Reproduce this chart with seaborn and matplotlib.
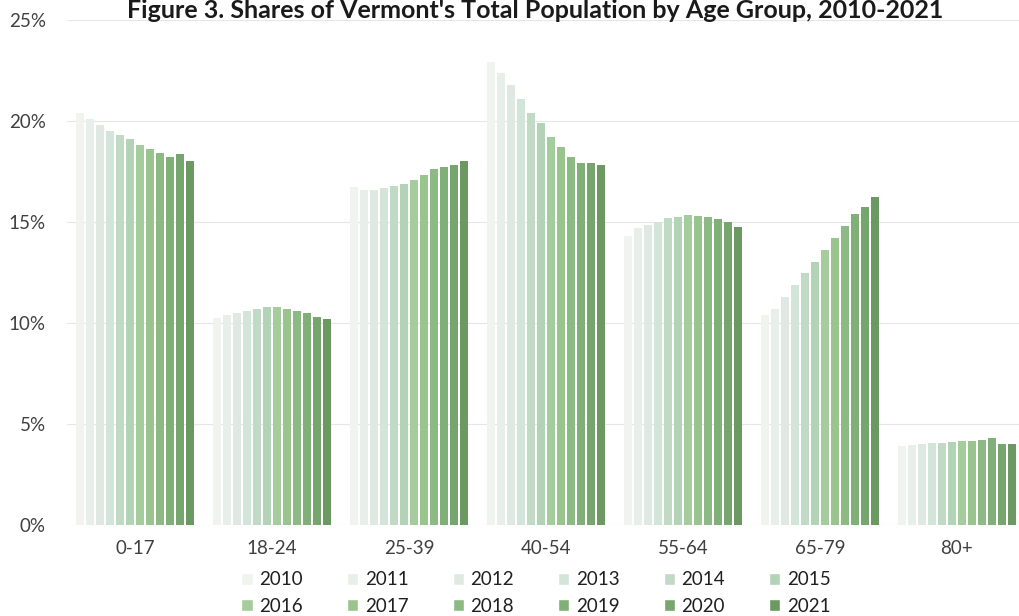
import matplotlib
matplotlib.use("Agg")
import matplotlib.pyplot as plt
import seaborn as sns
import pandas as pd

# Age groups and census years
age_groups = ["0-17", "18-24", "25-39", "40-54", "55-64", "65-79", "80+"]
years = [str(y) for y in range(2010, 2022)]

# Share of total population (%) for each age group, one list per group, 2010..2021
share_0_17 = [20.4, 20.1, 19.8, 19.5, 19.3, 19.1, 18.8, 18.6, 18.4, 18.2, 18.35, 18.0]
share_18_24 = [10.25, 10.4, 10.5, 10.6, 10.7, 10.8, 10.8, 10.7, 10.6, 10.5, 10.3, 10.2]
share_25_39 = [16.75, 16.6, 16.6, 16.7, 16.8, 16.9, 17.1, 17.35, 17.6, 17.7, 17.8, 18.0]
share_40_54 = [22.9, 22.4, 21.8, 21.1, 20.4, 19.9, 19.2, 18.7, 18.2, 17.9, 17.9, 17.8]
share_55_64 = [14.3, 14.7, 14.85, 15.0, 15.2, 15.25, 15.35, 15.3, 15.25, 15.15, 15.0, 14.75]
share_65_79 = [10.4, 10.7, 11.3, 11.9, 12.5, 13.0, 13.6, 14.2, 14.8, 15.4, 15.75, 16.25]
share_80_plus = [3.9, 3.95, 4.0, 4.05, 4.07, 4.1, 4.15, 4.17, 4.2, 4.3, 4.0, 4.0]

shares = [share_0_17, share_18_24, share_25_39, share_40_54,
          share_55_64, share_65_79, share_80_plus]

# Light-to-dark green ramp, one colour per year
year_colors = ["#f1f3ef", "#e8eee8", "#dfe9e2", "#d3e4d9", "#c0dac6", "#b2d3b5",
               "#a5cc9c", "#99c48e", "#8dba84", "#81af78", "#77a56e", "#6c9862"]

rows = []
for group, values in zip(age_groups, shares):
    for year, v in zip(years, values):
        rows.append({"group": group, "year": year, "share": v})
df = pd.DataFrame(rows)

sns.set_theme(style="white")
plt.rcParams["font.family"] = ["Lato", "DejaVu Sans"]

W, H = 1020, 616
fig = plt.figure(figsize=(W / 100, H / 100), dpi=100)
ax_left, ax_right, ax_top, ax_bottom = 66.5, 1025.5, 20, 525
ax = fig.add_axes([ax_left / W, 1 - ax_bottom / H,
                   (ax_right - ax_left) / W, (ax_bottom - ax_top) / H])

sns.barplot(data=df, x="group", y="share", hue="year", order=age_groups,
            hue_order=years, palette=dict(zip(years, year_colors)),
            width=0.88, saturation=1, ax=ax, legend=True)

# Narrow each bar so that small gaps separate the years
for container in ax.containers:
    for bar in container:
        x, w = bar.get_x(), bar.get_width()
        bar.set_x(x + w * 0.1)
        bar.set_width(w * 0.8)
        bar.set_linewidth(0)

ax.set_xlim(-0.5, 6.5)
ax.set_ylim(0, 25)
ax.set_yticks([0, 5, 10, 15, 20, 25])
ax.set_yticklabels([f"{t}%" for t in [0, 5, 10, 15, 20, 25]])
ax.yaxis.grid(True, color="#e6e6e6", linewidth=0.8)
ax.set_axisbelow(True)
for s in ax.spines.values():
    s.set_visible(False)
ax.set_xlabel("")
ax.set_ylabel("")
ax.tick_params(axis="x", length=0, pad=11, labelsize=13.5, labelcolor="#404040")
ax.tick_params(axis="y", length=0, pad=15, labelsize=13.5, labelcolor="#404040")

# Legend: two rows of six years, filled row by row
handles, labels = ax.get_legend_handles_labels()
ax.get_legend().remove()
ncol = 6
order = [r * ncol + c for c in range(ncol) for r in range(2)]
fig.legend([handles[i] for i in order], [labels[i] for i in order],
           loc="center", bbox_to_anchor=(536 / W, 1 - 593 / H),
           ncol=ncol, frameon=False, fontsize=13.5, handlelength=0.6,
           handleheight=0.6, handletextpad=0.35, columnspacing=2.35,
           labelspacing=0.5, labelcolor="#202020")

fig.text(535 / W, 1 - 11 / H,
         "Figure 3. Shares of Vermont's Total Population by Age Group, 2010-2021",
         ha="center", va="center", fontsize=18, fontweight="bold", color="#1a1a1a")

fig.savefig("out.png", dpi=100)
